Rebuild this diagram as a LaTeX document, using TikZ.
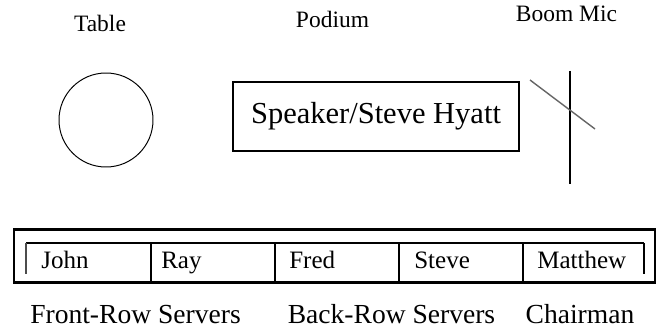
\documentclass[tikz,border=0pt]{standalone}
\usepackage{fontspec}
\setmainfont{Liberation Serif}
\usepackage{tikz}

\begin{document}
\begin{tikzpicture}[
    toplabel/.style={anchor=base, inner sep=0pt, font=\fontsize{16.7}{20}\selectfont},
    seatname/.style={anchor=base west, inner sep=0pt, font=\fontsize{17.8}{21}\selectfont},
    rolelabel/.style={anchor=base, inner sep=0pt, font=\fontsize{19.6}{23}\selectfont},
    heavy/.style={line width=1.8pt}
]
    % Fix the page size
    \useasboundingbox (0,0) rectangle (16.55,8.225);

    % Labels on top
    \node[toplabel] (tablelbl) at (2.5,7.425) {Table};
    \node[toplabel] (podiumlbl) at (8.3125,7.525) {Podium};
    \node[toplabel] (miclbl) at (14.1625,7.675) {Boom Mic};

    % Table
    \node[draw, circle, minimum size=2.35cm, inner sep=0pt, line width=0.7pt] (table) at (2.65,5.225) {};

    % Podium with the speaker
    \node[draw, heavy, minimum width=7.15cm, minimum height=1.725cm,
          font=\fontsize{21.7}{26}\selectfont] (podium) at (9.4,5.3125) {Speaker/Steve Hyatt};

    % Boom mic
    \coordinate (standtop) at (14.25,6.45);
    \coordinate (standbot) at (14.25,3.625);
    \coordinate (armstart) at (13.25,6.225);
    \coordinate (armend) at (14.875,5.0);
    \draw[line width=1pt] (standtop) -- (standbot);
    \draw[line width=1pt, black!60] (armstart) -- (armend);

    % Head table
    \draw[heavy] (0.35,1.1625) rectangle (16.375,2.4875);
    \draw[heavy] (0.65,2.15) -- (16.1,2.15);
    \draw[line width=1.2pt, black!70] (0.65,2.15) -- (0.65,1.375);
    \draw[line width=1.5pt] (16.1,2.15) -- (16.1,1.375);
    \foreach \x in {3.775,6.875,9.975,13.075}
        \draw[heavy] (\x,2.15) -- (\x,1.1625);

    % Names at the head table
    \node[seatname] (john) at (1.025,1.525) {John};
    \node[seatname] (ray) at (4.025,1.525) {Ray};
    \node[seatname] (fred) at (7.225,1.525) {Fred};
    \node[seatname] (steve) at (10.35,1.525) {Steve};
    \node[seatname] (matthew) at (13.425,1.525) {Matthew};

    % Roles below
    \node[rolelabel] (front) at (3.3875,0.15) {Front-Row Servers};
    \node[rolelabel] (back) at (9.7875,0.15) {Back-Row Servers};
    \node[rolelabel] (chair) at (14.5,0.15) {Chairman};
\end{tikzpicture}
\end{document}
